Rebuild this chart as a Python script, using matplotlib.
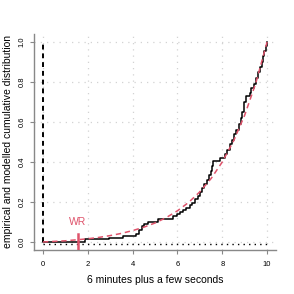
import matplotlib
matplotlib.use("Agg")
import matplotlib.pyplot as plt

# Empirical CDF (step positions and levels)
ecdf_x = [0, 1.88, 2.95, 3.55, 4.15, 4.28, 4.4, 4.5, 4.7, 5.15, 5.8, 6.0, 6.1, 6.25, 6.4,
          6.55, 6.65, 6.8, 6.9, 7.0, 7.1, 7.2, 7.3, 7.4, 7.48, 7.55, 7.6, 7.9, 8.1, 8.22,
          8.33, 8.43, 8.53, 8.63, 8.73, 8.83, 8.9, 8.98, 9.05, 9.22, 9.3, 9.4, 9.5, 9.6, 9.68,
          9.76, 9.82, 9.88, 9.94, 10.0]
ecdf_y = [0, 0.015, 0.022, 0.03, 0.04, 0.06, 0.08, 0.09, 0.10, 0.115, 0.13, 0.14, 0.15, 0.16, 0.17,
          0.185, 0.197, 0.215, 0.23, 0.25, 0.27, 0.29, 0.31, 0.335, 0.355, 0.38, 0.405, 0.42, 0.44, 0.46,
          0.49, 0.51, 0.54, 0.56, 0.59, 0.62, 0.65, 0.70, 0.73, 0.745, 0.77, 0.79, 0.82, 0.85, 0.875,
          0.90, 0.93, 0.955, 0.98, 1.0]

# Modelled CDF
model_x = [0, 0.5, 1, 1.5, 2, 2.5, 3, 3.5, 4, 4.5, 5, 5.5, 6, 6.5, 7, 7.5, 8, 8.5, 9, 9.5, 10]
model_y = [0, 0.003, 0.006, 0.011, 0.016, 0.023, 0.032, 0.043, 0.057, 0.074, 0.095, 0.122,
           0.156, 0.198, 0.251, 0.317, 0.400, 0.504, 0.634, 0.796, 1.0]

wr_x = 1.55
xticks = [0, 2, 4, 6, 8, 10]
yticks = [0.0, 0.2, 0.4, 0.6, 0.8, 1.0]
red = "#DF536B"

plt.rcParams['font.family'] = ['Liberation Sans', 'DejaVu Sans']
fig = plt.figure(figsize=(2.94, 2.94), dpi=100)
ax = fig.add_axes([0.1156, 0.1497, 0.8234, 0.7347])

ax.set_xlim(-0.4, 10.4)
ax.set_ylim(-0.04, 1.04)

for x in xticks:
    ax.plot([x, x], [-0.04, 1.04], color="#D3D3D3", lw=0.9, ls=(0, (1, 4)), zorder=0)
for y in yticks:
    ax.plot([-0.4, 10.4], [y, y], color="#D3D3D3", lw=0.9, ls=(0, (1, 4)), zorder=0)

ax.plot([0, 10], [-0.008, -0.008], color="black", lw=1.0, ls=(0, (1, 3)), zorder=1)
ax.plot([0, 0], [0, 1.0], color="black", lw=1.4, ls=(0, (2.5, 2)), zorder=2)

ax.step(ecdf_x, ecdf_y, where="post", color="black", lw=1.1, zorder=3)
ax.plot(model_x, model_y, color=red, lw=1.1, ls=(0, (3.5, 2.5)), zorder=4)

ax.plot([wr_x, wr_x], [-0.05, 0.04], color=red, lw=1.8, zorder=5)
ax.text(wr_x, 0.10, "WR", color=red, fontsize=7.5, ha="center", va="center")

for s in ["top", "right"]:
    ax.spines[s].set_visible(False)
for s in ["left", "bottom"]:
    ax.spines[s].set_color("#888888")
    ax.spines[s].set_linewidth(1.0)

ax.set_xticks(xticks)
ax.set_xticklabels([str(t) for t in xticks])
ax.set_yticks(yticks)
ax.set_yticklabels(["%.1f" % t for t in yticks], rotation=90, va="center")
ax.tick_params(axis="both", length=3, width=0.8, color="#888888", labelsize=5.5)
ax.tick_params(axis="x", pad=5)
ax.tick_params(axis="y", pad=3)

ax.set_xlabel("6 minutes plus a few seconds", fontsize=7.5, labelpad=5)
ax.set_ylabel("empirical and modelled cumulative distribution", fontsize=7.5, labelpad=4)

fig.savefig("out.png", dpi=100)
